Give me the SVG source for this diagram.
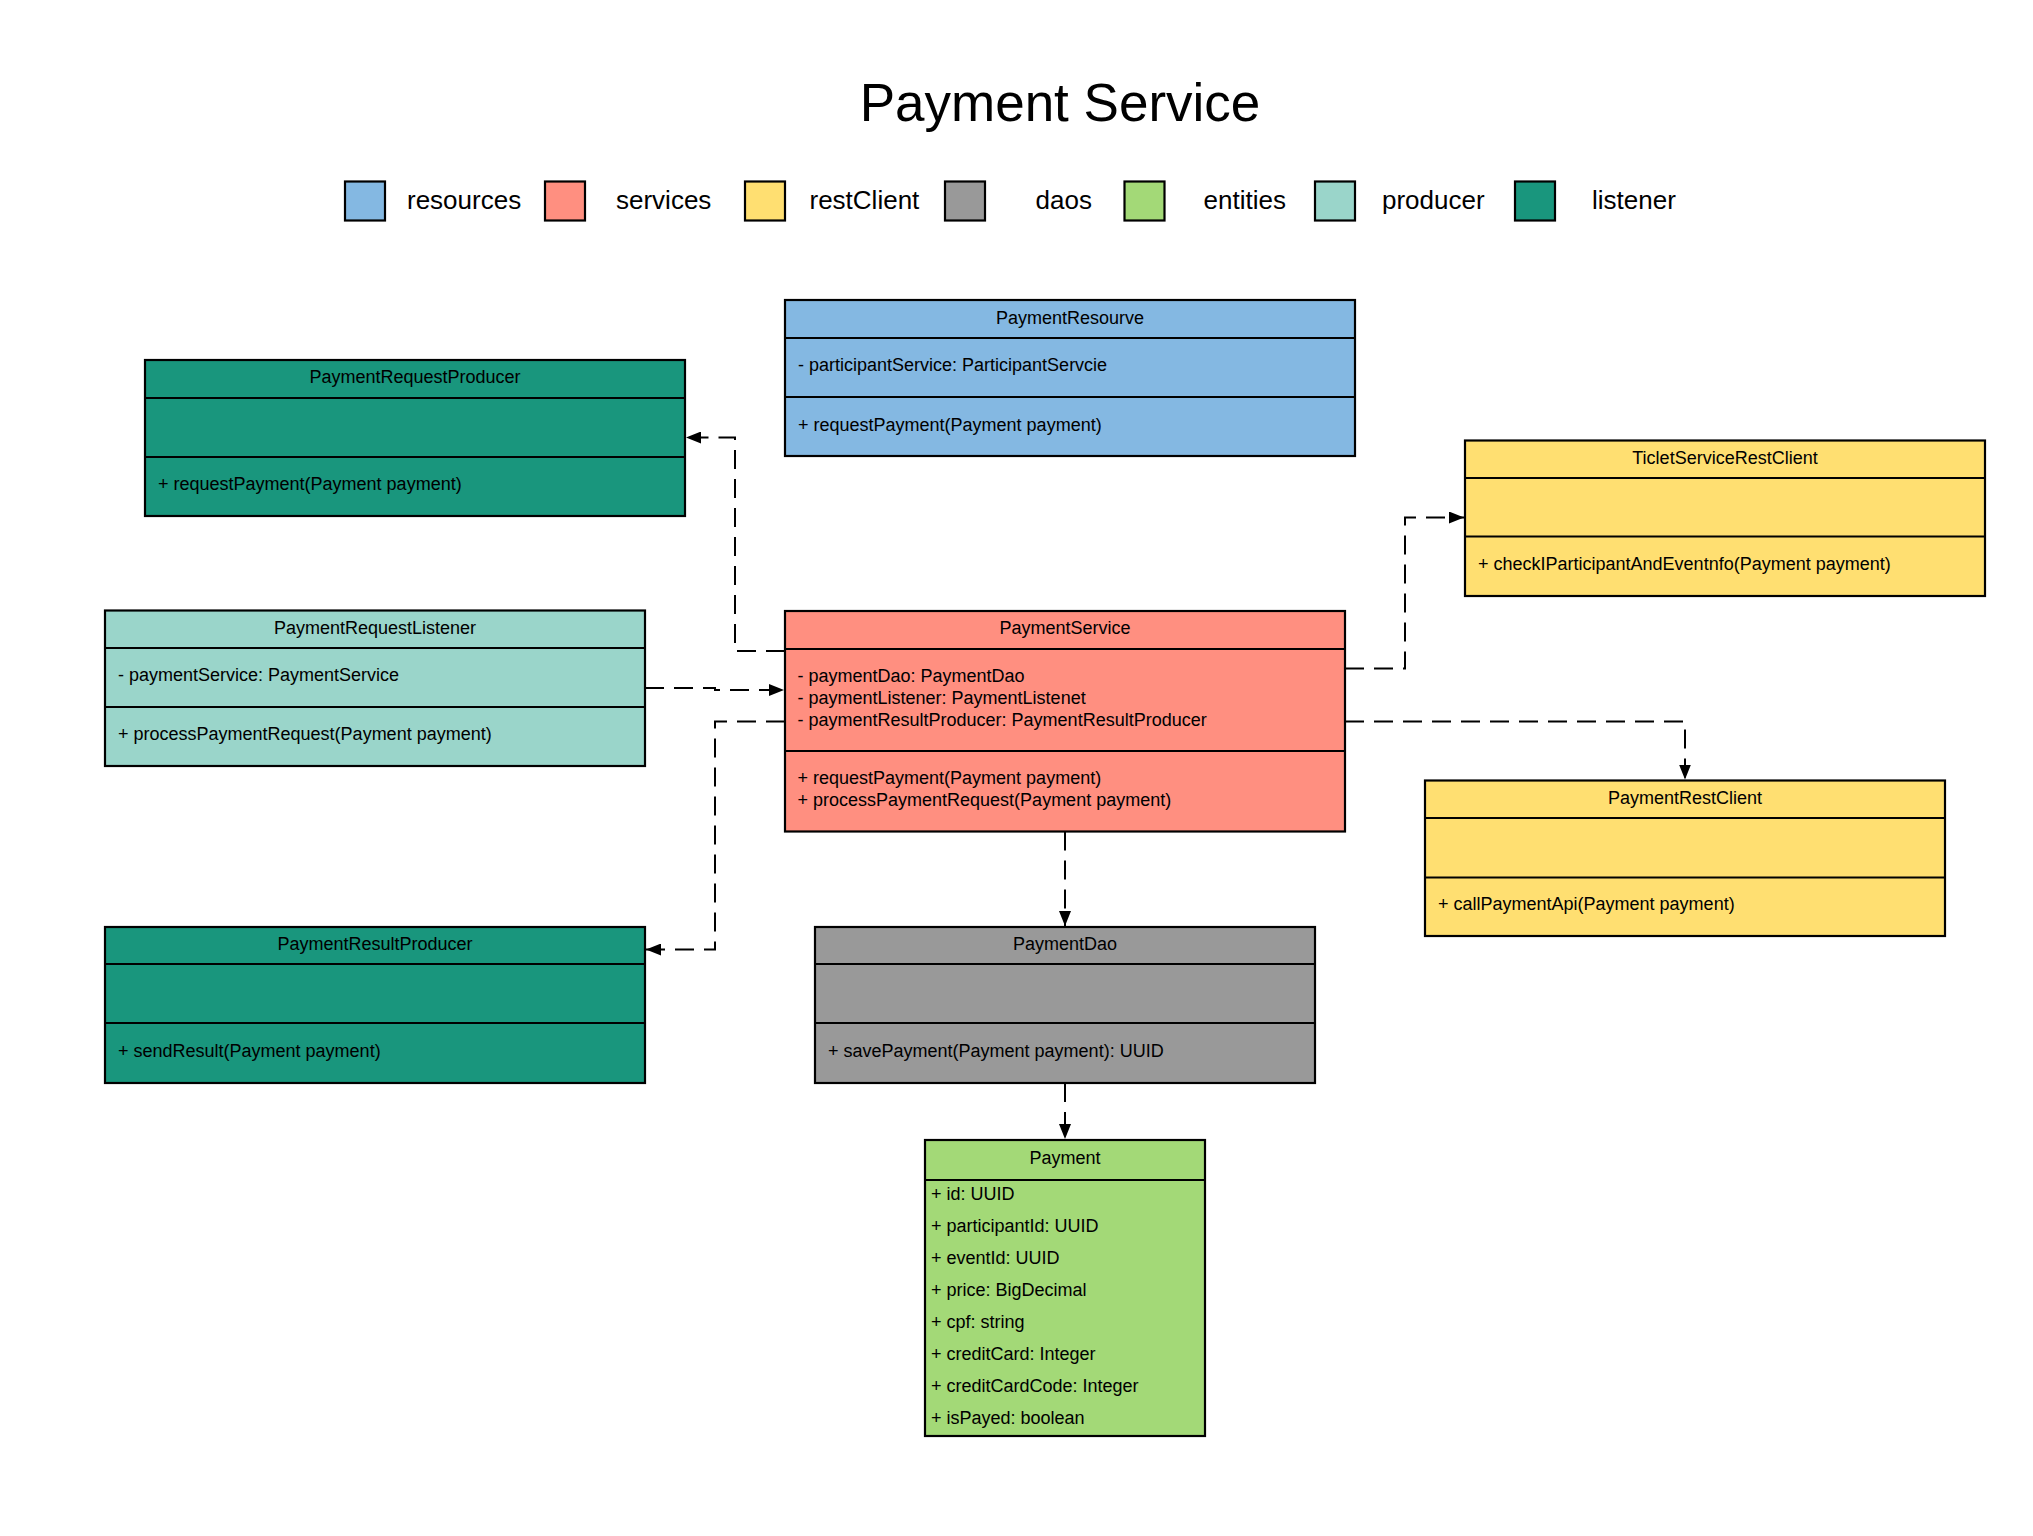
<svg xmlns="http://www.w3.org/2000/svg" width="2033" height="1536" viewBox="0 0 2033 1536">
<style>
  .box { stroke: #000; stroke-width: 2.2; }
  .sep { stroke: #000; stroke-width: 2.2; fill: none; }
  .t { font-family: "Liberation Sans", Arial, sans-serif; font-size: 18px; fill: #000; }
  .c { text-anchor: middle; }
  .leg { font-family: "Liberation Sans", Arial, sans-serif; font-size: 26px; fill: #000; }
  .title { font-family: "Liberation Sans", Arial, sans-serif; font-size: 53px; fill: #000; text-anchor: middle; }
  .res { fill: #84b8e2; }
  .svc { fill: #ff8f80; }
  .rest { fill: #ffdf71; }
  .dao { fill: #999999; }
  .ent { fill: #a3d977; }
  .prod { fill: #9ad5ca; }
  .lis { fill: #19967d; }
  .conn { fill: none; stroke: #000; stroke-width: 2; stroke-dasharray: 19 10; marker-end: url(#arr); }
</style>
<defs>
  <marker id="arr" markerWidth="16" markerHeight="12" refX="15" refY="6" orient="auto" markerUnits="userSpaceOnUse">
    <path d="M0,0 L15,6 L0,12 z" fill="#000"/>
  </marker>
</defs>
<rect width="2033" height="1536" fill="#fff"/>

<text class="title" x="1060" y="120.5">Payment Service</text>

<g id="legend">
  <rect class="box res" x="345" y="181.5" width="40" height="39"/>
  <text class="leg" x="407" y="209">resources</text>
  <rect class="box svc" x="545" y="181.5" width="40" height="39"/>
  <text class="leg" x="616" y="209">services</text>
  <rect class="box rest" x="745" y="181.5" width="40" height="39"/>
  <text class="leg" x="809.5" y="209">restClient</text>
  <rect class="box dao" x="945" y="181.5" width="40" height="39"/>
  <text class="leg" x="1035.5" y="209">daos</text>
  <rect class="box ent" x="1124.5" y="181.5" width="40" height="39"/>
  <text class="leg" x="1203.5" y="209">entities</text>
  <rect class="box prod" x="1315" y="181.5" width="40" height="39"/>
  <text class="leg" x="1382" y="209">producer</text>
  <rect class="box lis" x="1515" y="181.5" width="40" height="39"/>
  <text class="leg" x="1592" y="209">listener</text>
</g>

<g id="connectors">
  <path class="conn" d="M785,651 H735 V437.5 H686"/>
  <path class="conn" d="M645,688 H715 V690 H784"/>
  <path class="conn" d="M785,721.5 H715 V949.5 H646"/>
  <path class="conn" d="M1345,668.5 H1405 V517.5 H1464"/>
  <path class="conn" d="M1345,721.5 H1685 V779.5"/>
  <path class="conn" d="M1065,831.5 V926"/>
  <path class="conn" d="M1065,1083 V1139"/>
</g>

<g id="PaymentResourve">
  <rect class="box res" x="785" y="300" width="570" height="156"/>
  <path class="sep" d="M785,338 H1355 M785,397 H1355"/>
  <text class="t c" x="1070" y="323.5">PaymentResourve</text>
  <text class="t" x="798" y="371">- participantService: ParticipantServcie</text>
  <text class="t" x="798" y="430.5">+ requestPayment(Payment payment)</text>
</g>

<g id="PaymentRequestProducer">
  <rect class="box lis" x="145" y="360" width="540" height="156"/>
  <path class="sep" d="M145,398 H685 M145,457 H685"/>
  <text class="t c" x="415" y="383">PaymentRequestProducer</text>
  <text class="t" x="158" y="490">+ requestPayment(Payment payment)</text>
</g>

<g id="TicletServiceRestClient">
  <rect class="box rest" x="1465" y="440.5" width="520" height="155.5"/>
  <path class="sep" d="M1465,478 H1985 M1465,536.5 H1985"/>
  <text class="t c" x="1725" y="464">TicletServiceRestClient</text>
  <text class="t" x="1478" y="570">+ checkIParticipantAndEventnfo(Payment payment)</text>
</g>

<g id="PaymentRequestListener">
  <rect class="box prod" x="105" y="610.5" width="540" height="155.5"/>
  <path class="sep" d="M105,648 H645 M105,707 H645"/>
  <text class="t c" x="375" y="633.5">PaymentRequestListener</text>
  <text class="t" x="118" y="681">- paymentService: PaymentService</text>
  <text class="t" x="118" y="740">+ processPaymentRequest(Payment payment)</text>
</g>

<g id="PaymentService">
  <rect class="box svc" x="785" y="611" width="560" height="220.5"/>
  <path class="sep" d="M785,649 H1345 M785,751 H1345"/>
  <text class="t c" x="1065" y="634">PaymentService</text>
  <text class="t" x="797.5" y="681.5">- paymentDao: PaymentDao</text>
  <text class="t" x="797.5" y="703.5">- paymentListener: PaymentListenet</text>
  <text class="t" x="797.5" y="725.5">- paymentResultProducer: PaymentResultProducer</text>
  <text class="t" x="797.5" y="783.5">+ requestPayment(Payment payment)</text>
  <text class="t" x="797.5" y="805.5">+ processPaymentRequest(Payment payment)</text>
</g>

<g id="PaymentRestClient">
  <rect class="box rest" x="1425" y="780.5" width="520" height="155.5"/>
  <path class="sep" d="M1425,818 H1945 M1425,877.5 H1945"/>
  <text class="t c" x="1685" y="804">PaymentRestClient</text>
  <text class="t" x="1438" y="910">+ callPaymentApi(Payment payment)</text>
</g>

<g id="PaymentResultProducer">
  <rect class="box lis" x="105" y="927" width="540" height="156"/>
  <path class="sep" d="M105,964 H645 M105,1023 H645"/>
  <text class="t c" x="375" y="950">PaymentResultProducer</text>
  <text class="t" x="118" y="1057">+ sendResult(Payment payment)</text>
</g>

<g id="PaymentDao">
  <rect class="box dao" x="815" y="927" width="500" height="156"/>
  <path class="sep" d="M815,964 H1315 M815,1023 H1315"/>
  <text class="t c" x="1065" y="950">PaymentDao</text>
  <text class="t" x="828" y="1057">+ savePayment(Payment payment): UUID</text>
</g>

<g id="Payment">
  <rect class="box ent" x="925" y="1140" width="280" height="296"/>
  <path class="sep" d="M925,1180 H1205"/>
  <text class="t c" x="1065" y="1164">Payment</text>
  <text class="t" x="931" y="1200">+ id: UUID</text>
  <text class="t" x="931" y="1232">+ participantId: UUID</text>
  <text class="t" x="931" y="1264">+ eventId: UUID</text>
  <text class="t" x="931" y="1296">+ price: BigDecimal</text>
  <text class="t" x="931" y="1328">+ cpf: string</text>
  <text class="t" x="931" y="1360">+ creditCard: Integer</text>
  <text class="t" x="931" y="1392">+ creditCardCode: Integer</text>
  <text class="t" x="931" y="1424">+ isPayed: boolean</text>
</g>
</svg>
